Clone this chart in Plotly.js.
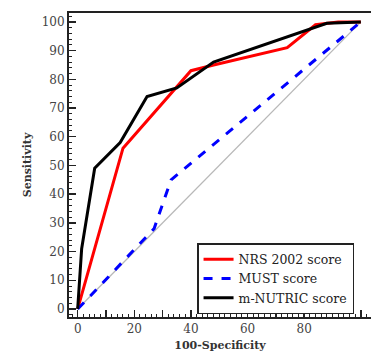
<!DOCTYPE html>
<html>
<head>
<meta charset="utf-8">
<script src="https://cdn.plot.ly/plotly-3.0.1.min.js"></script>
<style>html,body{margin:0;padding:0;background:#fff;}#chart{width:371px;height:360px;}</style>
</head>
<body>
<div id="chart"></div>
<script>
const nrsX = [0, 16, 40, 48, 74, 84, 92, 100];
const nrsY = [0, 56, 83, 85, 91, 99, 100, 100];
const mustX = [0, 3, 27, 33, 100];
const mustY = [0, 3, 28, 45, 100];
const nutricX = [0, 1.4, 6, 15, 24.5, 35, 48, 83, 88, 100];
const nutricY = [0, 21, 49, 58, 74, 77, 86, 98, 99.5, 100];
const refX = [0, 100];
const refY = [0, 100];
const seriesNames = ['NRS 2002 score', 'MUST score', 'm-NUTRIC score'];

const serif = 'DejaVu Serif';
const traces = [
  {x: refX, y: refY, mode: 'lines', line: {color: '#b8b8b8', width: 1.3}, showlegend: false, hoverinfo: 'skip'},
  {x: nrsX, y: nrsY, mode: 'lines', name: seriesNames[0], line: {color: '#ff0000', width: 3}},
  {x: mustX, y: mustY, mode: 'lines', name: seriesNames[1], line: {color: '#0000ff', width: 3, dash: 'dash'}},
  {x: nutricX, y: nutricY, mode: 'lines', name: seriesNames[2], line: {color: '#000000', width: 3}}
];
const layout = {
  width: 371, height: 360,
  margin: {l: 69, r: 0, t: 13, b: 43},
  paper_bgcolor: '#fff', plot_bgcolor: '#fff',
  showlegend: true,
  font: {family: serif, color: '#333'},
  xaxis: {
    range: [-3.07, 103.6], showgrid: false, zeroline: false,
    showline: true, linecolor: '#222', linewidth: 2, mirror: true,
    ticks: 'inside', ticklen: 7, tickwidth: 1.5, tickcolor: '#222',
    tickvals: [0, 10, 20, 30, 40, 50, 60, 70, 80, 90, 100],
    ticktext: ['0', '', '20', '', '40', '', '60', '', '80', '', '100'],
    minor: {dtick: 2, ticks: 'inside', ticklen: 3, tickwidth: 1, tickcolor: '#222'},
    tickfont: {size: 12, color: '#444'},
    title: {text: '<b>100-Specificity</b>', font: {size: 11, color: '#333'}, standoff: 6}
  },
  yaxis: {
    range: [-2.8, 103.1], showgrid: false, zeroline: false,
    showline: true, linecolor: '#222', linewidth: 2,
    ticks: 'inside', ticklen: 7, tickwidth: 1.5, tickcolor: '#222',
    dtick: 10, tick0: 0,
    minor: {dtick: 2, ticks: 'inside', ticklen: 3, tickwidth: 1, tickcolor: '#222'},
    tickfont: {size: 12, color: '#444'},
    title: {text: '<b>Sensitivity</b>', font: {size: 11, color: '#333'}, standoff: 8}
  },
  legend: {
    x: 0.424, y: 0.243, xanchor: 'left', yanchor: 'top',
    bgcolor: '#fff', bordercolor: '#222', borderwidth: 1.5,
    font: {size: 12.5, color: '#222', family: serif},
    tracegroupgap: 0, itemwidth: 30,
    entrywidth: 150, entrywidthmode: 'pixels'
  }
};
Plotly.newPlot('chart', traces, layout, {displayModeBar: false, staticPlot: true});
</script>
</body>
</html>
